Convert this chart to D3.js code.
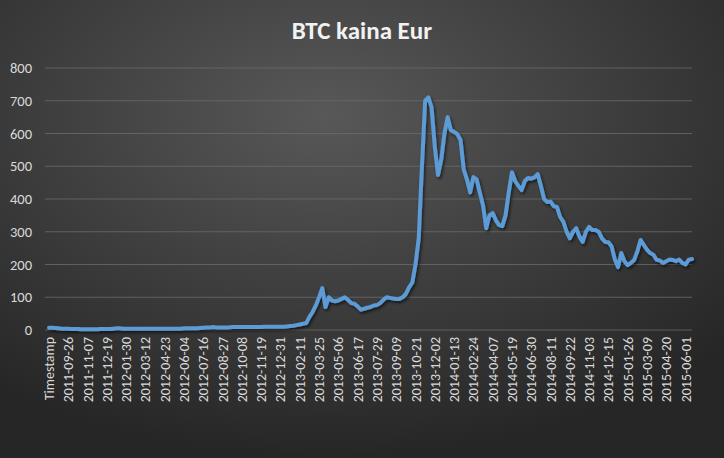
<!doctype html>
<html lang="en">
<head>
<meta charset="UTF-8">
<title>BTC kaina Eur</title>
<style>
    body { margin: 0; background: #2b2b2b; }
    #chart text { font-family: Calibri, Carlito, "Liberation Sans", sans-serif; }
</style>
</head>
<body>
<svg id="chart" width="724" height="458"></svg>
<script src="https://cdn.jsdelivr.net/npm/d3@7"></script>
<script>
    // weekly close, EUR; first category is the stray "Timestamp" header
    var firstWeek = '2011-08-22'
    var prices = [
        7, 7, 6, 5, 4, 4, 4, 3, 3, 3, 2, 2, 2, 2, 2, 2, 3, 3, 3, 3,
        4, 5, 5, 4, 4, 4, 4, 4, 4, 4, 4, 4, 4, 4, 4, 4, 4, 4, 4, 4,
        4, 4, 5, 5, 5, 5, 5, 6, 7, 8, 8, 9, 8, 8, 8, 8, 8, 9, 9, 9,
        9, 9, 9, 9, 9, 9, 9, 10, 10, 10, 10, 10, 10, 10, 11, 12, 13, 15, 17, 19,
        21, 40, 55, 75, 100, 128, 70, 100, 90, 88, 90, 95, 100, 92, 82, 80, 72, 62, 65, 68,
        70, 75, 76, 82, 92, 100, 98, 96, 95, 95, 100, 110, 130, 145, 200, 280, 500, 700, 710, 680,
        560, 473, 520, 600, 650, 610, 605, 598, 580, 490, 460, 420, 467, 460, 420, 380, 311, 350, 357, 335,
        320, 317, 350, 420, 482, 455, 440, 427, 455, 464, 462, 466, 476, 440, 400, 391, 392, 378, 376, 345,
        330, 300, 280, 300, 311, 285, 269, 300, 315, 305, 305, 300, 280, 269, 268, 255, 215, 192, 235, 210,
        198, 205, 214, 240, 275, 260, 245, 235, 230, 214, 212, 205, 210, 215, 214, 210, 215, 205, 200, 215,
        217
    ]
    var yTicks = [0, 100, 200, 300, 400, 500, 600, 700, 800]

    var fmt = d3.utcFormat('%Y-%m-%d')
    var start = new Date(firstWeek + 'T00:00:00Z')
    var categories = prices.map(function(d, i) {
        return i === 0 ? 'Timestamp' : fmt(d3.utcWeek.offset(start, i - 1))
    })

    var svg = d3.select('#chart')
    var defs = svg.append('defs')
    var grad = defs.append('radialGradient').attr('id', 'bg')
        .attr('cx', '45%').attr('cy', '25%').attr('r', '75%')
    grad.append('stop').attr('offset', '0%').attr('stop-color', '#585858')
    grad.append('stop').attr('offset', '100%').attr('stop-color', '#262626')
    var sh = defs.append('filter').attr('id', 'shadow')
        .attr('x', '-5%').attr('y', '-5%').attr('width', '110%').attr('height', '110%')
    sh.append('feDropShadow').attr('dx', 1.5).attr('dy', 2).attr('stdDeviation', 1.5)
        .attr('flood-color', '#000').attr('flood-opacity', 0.6)

    svg.append('rect').attr('width', 724).attr('height', 458).attr('fill', 'url(#bg)')

    var xScale = d3.scalePoint().domain(categories).range([49, 692])
    var yScale = d3.scaleLinear().domain([0, 800]).range([330, 68])

    svg.append('g').selectAll('line').data(yTicks).join('line')
        .attr('x1', 45).attr('x2', 692)
        .attr('y1', function(d) { return yScale(d) }).attr('y2', function(d) { return yScale(d) })
        .attr('stroke', '#6b6b6b').attr('stroke-width', 0.8)

    svg.append('g').selectAll('text').data(yTicks).join('text')
        .attr('x', 32).attr('y', function(d) { return yScale(d) + 5 })
        .attr('text-anchor', 'end').attr('font-size', 14.5).attr('fill', '#d9d9d9')
        .text(function(d) { return d })

    var shown = categories.filter(function(d, i) { return i % 6 === 0 })
    svg.append('g').selectAll('text').data(shown).join('text')
        .attr('transform', function(d) { return 'translate(' + (xScale(d) + 5) + ',337) rotate(-90)' })
        .attr('text-anchor', 'end').attr('font-size', 14).attr('fill', '#d9d9d9')
        .text(function(d) { return d })

    var line = d3.line()
        .x(function(d, i) { return xScale(categories[i]) })
        .y(function(d) { return yScale(d) })

    svg.append('path').attr('d', line(prices))
        .attr('fill', 'none').attr('stroke', '#5b9bd5').attr('stroke-width', 4)
        .attr('stroke-linejoin', 'round').attr('stroke-linecap', 'round')
        .attr('filter', 'url(#shadow)')

    svg.append('text').attr('x', 362).attr('y', 39).attr('text-anchor', 'middle')
        .attr('font-size', 25).attr('font-weight', 'bold').attr('fill', '#f2f2f2')
        .text('BTC kaina Eur')
</script>
</body>
</html>
